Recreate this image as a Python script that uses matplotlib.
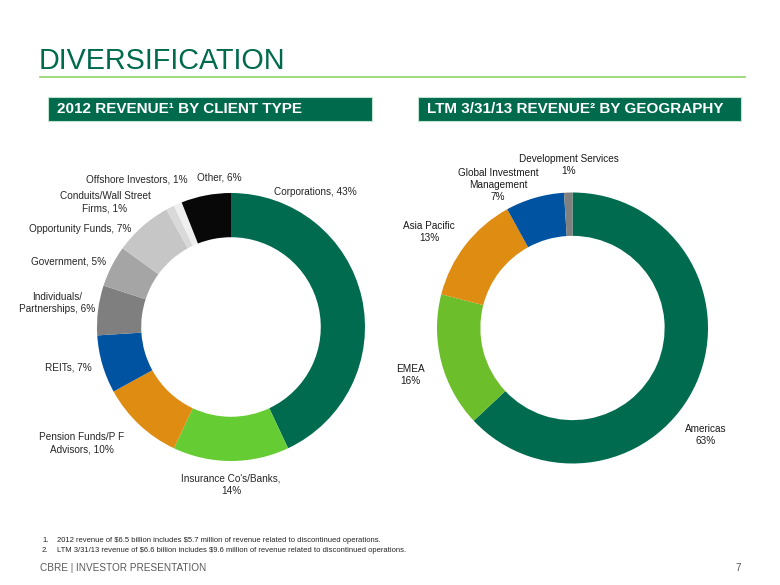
import matplotlib
matplotlib.use("Agg")
from matplotlib import pyplot as plt
from matplotlib.patches import Rectangle
from matplotlib.lines import Line2D

plt.rcParams['font.family'] = ['Liberation Sans', 'DejaVu Sans']
plt.rcParams['text.parse_math'] = False

# 2012 revenue by client type (%)
client_types = ["Corporations", "Insurance Co's/Banks", "Pension Funds/P F Advisors",
                "REITs", "Individuals/Partnerships", "Government", "Opportunity Funds",
                "Conduits/Wall Street Firms", "Offshore Investors", "Other"]
client_share = [43, 14, 10, 7, 6, 5, 7, 1, 1, 6]
client_labels = ["Corporations, 43%", "Insurance Co's/Banks,\n14%", "Pension Funds/P F\nAdvisors, 10%",
                 "REITs, 7%", "Individuals/\nPartnerships, 6%", "Government, 5%",
                 "Opportunity Funds, 7%", "Conduits/Wall Street\nFirms, 1%",
                 "Offshore Investors, 1%", "Other, 6%"]
client_colors = ["#006B4E", "#66CC33", "#DF8C12", "#0053A0", "#7F7F7F",
                 "#A5A5A5", "#C6C6C6", "#D9D9D9", "#EFEFEF", "#080808"]

# LTM 3/31/13 revenue by geography (%)
regions = ["Americas", "EMEA", "Asia Pacific", "Global Investment Management", "Development Services"]
region_share = [63, 16, 13, 7, 1]
region_labels = ["Americas\n63%", "EMEA\n16%", "Asia Pacific\n13%",
                 "Global Investment\nManagement\n7%", "Development Services\n1%"]
region_colors = ["#006B4E", "#6CBE2A", "#DF8C12", "#0053A0", "#808080"]

# hand placed label anchors (pixels from top-left), like the slide
client_label_pos = [(315, 192), (231, 485), (82, 443), (68, 367), (57, 303),
                    (69, 262), (80, 229), (105, 202), (137, 179), (219, 177)]
region_label_pos = [(706, 435), (410, 375), (429, 232), (498, 185), (569, 165)]

W, H = 780, 585
fig = plt.figure(figsize=(7.8, 5.85), dpi=100)
GREEN = "#006A4D"
TEXT = "#262626"


def px(x, y):
    return x / W, 1 - y / H


def donut(cx, cy, r, values, colors, ring):
    ax = fig.add_axes([(cx - r) / W, (H - cy - r) / H, 2 * r / W, 2 * r / H])
    ax.pie(values, colors=colors, startangle=90, counterclock=False,
           radius=1, wedgeprops=dict(width=ring, linewidth=0))
    ax.set_xlim(-1, 1)
    ax.set_ylim(-1, 1)
    ax.set_aspect("equal")
    ax.axis("off")
    return ax


donut(231, 327, 134, client_share, client_colors, 0.33)
donut(572.5, 328, 135.5, region_share, region_colors, 0.32)

for lab, (x, y) in zip(client_labels, client_label_pos):
    fig.text(*px(x, y), lab, ha="center", va="center", fontsize=7.2,
             color=TEXT, linespacing=1.3)
for lab, (x, y) in zip(region_labels, region_label_pos):
    fig.text(*px(x, y), lab, ha="center", va="center", fontsize=7.2,
             color="#1A1A1A", linespacing=1.25)

# title and rule
fig.text(*px(39, 61), "DIVERSIFICATION", fontsize=20.7, color=GREEN, va="center", ha="left")
fig.add_artist(Line2D([40 / W, 745 / W], [1 - 77 / H] * 2, color="#8DD46A", lw=1.2))

# section header boxes
for x0, x1, txt in [(48, 372, "2012 REVENUE\u00b9 BY CLIENT TYPE"),
                    (418, 741, "LTM 3/31/13 REVENUE\u00b2 BY GEOGRAPHY")]:
    fig.add_artist(Rectangle(px(x0, 121), (x1 - x0) / W, 24 / H, facecolor=GREEN,
                             edgecolor="#BFE3CF", lw=0.8, transform=fig.transFigure))
    fig.text(*px(x0 + 9, 109), txt, color="white", fontsize=11, fontweight="bold",
             va="center", ha="left")

# footnotes
notes = ["2012 revenue of $6.5 billion includes $5.7 million of revenue related to discontinued operations.",
         "LTM 3/31/13 revenue of $6.6 billion includes $9.6 million of revenue related to discontinued operations."]
for i, n in enumerate(notes):
    y = 541 + i * 9
    fig.text(*px(42, y), f"{i + 1}.", fontsize=5.5, color=TEXT, va="center")
    fig.text(*px(57, y), n, fontsize=5.5, color=TEXT, va="center")

fig.text(*px(40, 568), "CBRE | INVESTOR PRESENTATION", fontsize=7.2, color="#595959", va="center")
fig.text(*px(741, 568), "7", fontsize=7.2, color="#595959", va="center", ha="right")

fig.savefig("out.png", dpi=100)
